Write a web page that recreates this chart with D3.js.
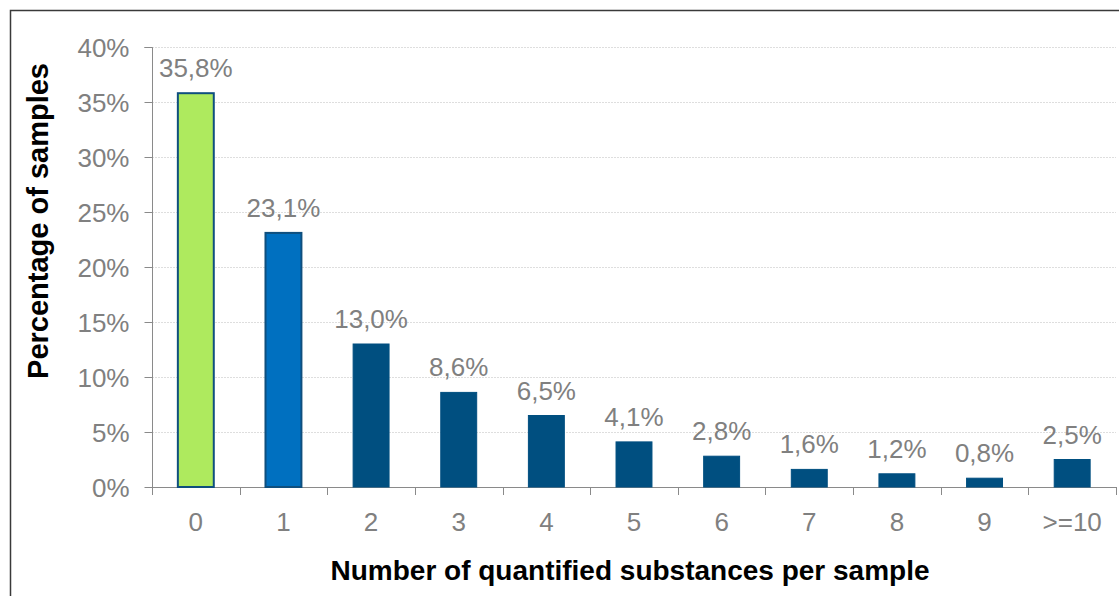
<!DOCTYPE html>
<html>
<head>
<meta charset="utf-8">
<script src="https://cdn.jsdelivr.net/npm/d3@7"></script>
<style>
  html, body { margin: 0; padding: 0; background: #fff; }
  svg { display: block; font-family: "Liberation Sans", Arial, Helvetica, sans-serif; }
</style>
</head>
<body>
<svg id="chart" width="1119" height="596"></svg>
<script>
// Share of samples by number of quantified substances
const categories = ["0", "1", "2", "3", "4", "5", "6", "7", "8", "9", ">=10"];
const percentages = [35.8, 23.1, 13.0, 8.6, 6.5, 4.1, 2.8, 1.6, 1.2, 0.8, 2.5];
const valueLabels = ["35,8%", "23,1%", "13,0%", "8,6%", "6,5%", "4,1%", "2,8%", "1,6%", "1,2%", "0,8%", "2,5%"];
const yTicks = [0, 5, 10, 15, 20, 25, 30, 35, 40];
const yTickLabels = ["0%", "5%", "10%", "15%", "20%", "25%", "30%", "35%", "40%"];

const svg = d3.select("#chart");
const W = 1119, H = 596;
const plot = { left: 152, right: 1116, top: 47, bottom: 487 };

// outer frame
svg.append("rect")
  .attr("x", 10.5).attr("y", 10.5)
  .attr("width", W + 20).attr("height", H + 20)
  .attr("fill", "none").attr("stroke", "#3a3a3a").attr("stroke-width", 1.5);

const x = d3.scaleBand()
  .domain(categories)
  .range([plot.left, plot.right])
  .paddingInner(0.59)
  .paddingOuter(0.295);

const y = d3.scaleLinear().domain([0, 40]).range([plot.bottom, plot.top]);

// horizontal gridlines
svg.append("g")
  .selectAll("line")
  .data(yTicks.filter(d => d > 0))
  .join("line")
  .attr("x1", plot.left).attr("x2", plot.right)
  .attr("y1", d => Math.round(y(d)) + 0.5).attr("y2", d => Math.round(y(d)) + 0.5)
  .attr("stroke", "#dedede").attr("stroke-width", 1)
  .attr("stroke-dasharray", "2,1");

// y axis
const yAxis = d3.axisLeft(y)
  .tickValues(yTicks)
  .tickSize(8)
  .tickPadding(15)
  .tickFormat((d, i) => yTickLabels[i]);
const gy = svg.append("g")
  .attr("transform", `translate(${plot.left + 0.5},0)`)
  .call(yAxis);
gy.select(".domain").attr("stroke", "#8a8a8a").attr("d", `M-8,${plot.top + 0.5}H0V${plot.bottom + 0.5}`);
gy.selectAll(".tick line").attr("stroke", "#8a8a8a");
gy.selectAll(".tick text")
  .attr("fill", "#808080")
  .style("font-size", "26px")
  .attr("dy", "0.36em");

// x axis: labels at band centers, tick marks at band boundaries
const step = x.step();
const boundaries = d3.range(categories.length + 1).map(i => plot.left + i * step);
const gx = svg.append("g");
gx.append("line")
  .attr("x1", plot.left).attr("x2", plot.right)
  .attr("y1", plot.bottom + 0.5).attr("y2", plot.bottom + 0.5)
  .attr("stroke", "#8a8a8a");
gx.selectAll("line.bt")
  .data(boundaries)
  .join("line")
  .attr("class", "bt")
  .attr("x1", d => Math.round(d) + 0.5).attr("x2", d => Math.round(d) + 0.5)
  .attr("y1", plot.bottom).attr("y2", plot.bottom + 8)
  .attr("stroke", "#8a8a8a");
gx.selectAll("text")
  .data(categories)
  .join("text")
  .attr("x", d => x(d) + x.bandwidth() / 2)
  .attr("y", 531)
  .attr("text-anchor", "middle")
  .attr("fill", "#808080")
  .style("font-size", "26px")
  .text(d => d);

// bars
const fills = categories.map((c, i) => i === 0 ? "#aeea5e" : i === 1 ? "#0070c0" : "#004f80");
svg.append("g")
  .selectAll("rect")
  .data(percentages)
  .join("rect")
  .attr("x", (d, i) => x(categories[i]))
  .attr("y", d => y(d))
  .attr("width", x.bandwidth())
  .attr("height", d => y(0) - y(d))
  .attr("fill", (d, i) => fills[i])
  .attr("stroke", (d, i) => i < 2 ? "#0f4f7e" : "#004f80")
  .attr("stroke-width", (d, i) => i < 2 ? 2 : 1);

// value labels
svg.append("g")
  .selectAll("text")
  .data(percentages)
  .join("text")
  .attr("x", (d, i) => x(categories[i]) + x.bandwidth() / 2)
  .attr("y", d => y(d) - 16)
  .attr("text-anchor", "middle")
  .attr("fill", "#808080")
  .style("font-size", "26px")
  .text((d, i) => valueLabels[i]);

// axis titles
svg.append("text")
  .attr("transform", "translate(48,221) rotate(-90)")
  .attr("text-anchor", "middle")
  .attr("fill", "#000")
  .style("font-size", "29px")
  .style("font-weight", "bold")
  .text("Percentage of samples");

svg.append("text")
  .attr("x", 630).attr("y", 580)
  .attr("text-anchor", "middle")
  .attr("fill", "#000")
  .style("font-size", "28px")
  .style("font-weight", "bold")
  .text("Number of quantified substances per sample");
</script>
</body>
</html>
